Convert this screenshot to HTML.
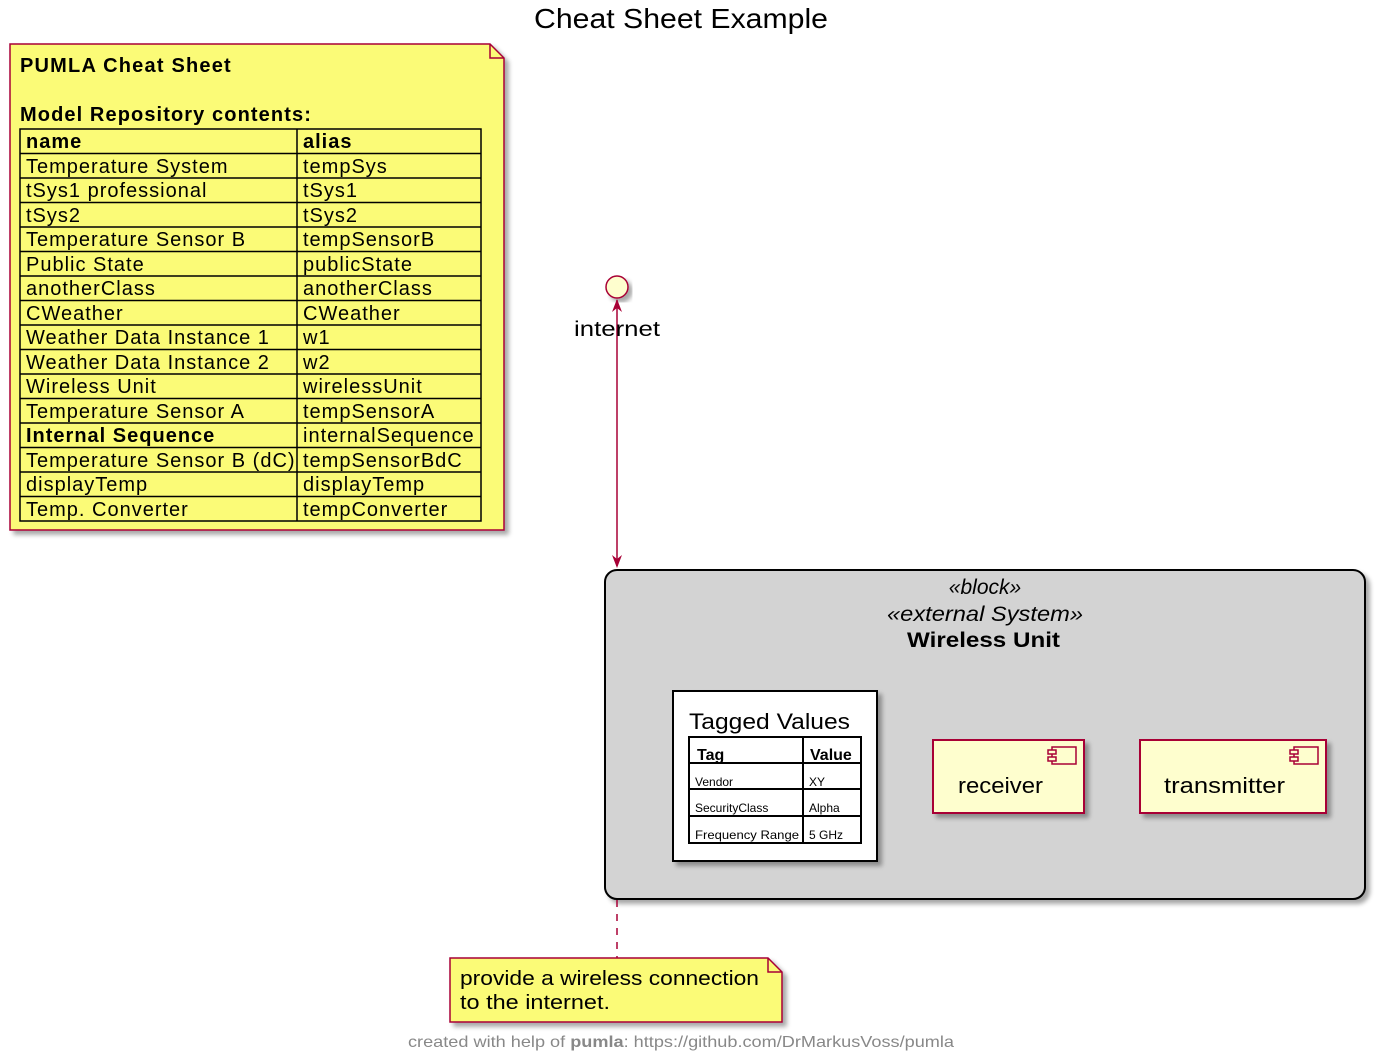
<!DOCTYPE html>
<html><head><meta charset="utf-8"><style>html,body{margin:0;padding:0;background:#fff}svg{display:block}text{font-family:"Liberation Sans",sans-serif}</style></head><body>
<svg width="1381" height="1059" viewBox="0 0 1381 1059" xmlns="http://www.w3.org/2000/svg">
<defs><filter id="sh" x="-10%" y="-10%" width="130%" height="130%"><feGaussianBlur in="SourceAlpha" stdDeviation="2.5"/><feOffset dx="4" dy="4"/><feComponentTransfer><feFuncA type="linear" slope="0.35"/></feComponentTransfer><feMerge><feMergeNode/><feMergeNode in="SourceGraphic"/></feMerge></filter></defs>
<text x="534" y="28" font-size="28" textLength="294" lengthAdjust="spacingAndGlyphs">Cheat Sheet Example</text>
<!-- Cheat sheet note -->
<path d="M10,44 H490 L504,58 V530 H10 Z" fill="#fbfb77" stroke="#a80036" stroke-width="1.5" filter="url(#sh)"/>
<path d="M490,44 V58 H504" fill="none" stroke="#a80036" stroke-width="1.5"/>
<text x="20" y="72" font-size="20" font-weight="bold" letter-spacing="1.2">PUMLA Cheat Sheet</text>
<text x="20" y="121" font-size="20" font-weight="bold" letter-spacing="1.1">Model Repository contents:</text>
<g stroke="#000" stroke-width="1.5" fill="none">
<rect x="20" y="129" width="461" height="392"/>
<line x1="297" y1="129" x2="297" y2="521"/>
<line x1="20" y1="153.5" x2="481" y2="153.5"/><line x1="20" y1="178" x2="481" y2="178"/><line x1="20" y1="202.5" x2="481" y2="202.5"/><line x1="20" y1="227" x2="481" y2="227"/><line x1="20" y1="251.5" x2="481" y2="251.5"/><line x1="20" y1="276" x2="481" y2="276"/><line x1="20" y1="300.5" x2="481" y2="300.5"/><line x1="20" y1="325" x2="481" y2="325"/><line x1="20" y1="349.5" x2="481" y2="349.5"/><line x1="20" y1="374" x2="481" y2="374"/><line x1="20" y1="398.5" x2="481" y2="398.5"/><line x1="20" y1="423" x2="481" y2="423"/><line x1="20" y1="447.5" x2="481" y2="447.5"/><line x1="20" y1="472" x2="481" y2="472"/><line x1="20" y1="496.5" x2="481" y2="496.5"/>
</g>
<g font-size="20" letter-spacing="1">
<text x="26" y="148" font-weight="bold">name</text><text x="303" y="148" font-weight="bold">alias</text>
<text x="26" y="173">Temperature System</text><text x="303" y="173">tempSys</text>
<text x="26" y="197">tSys1 professional</text><text x="303" y="197">tSys1</text>
<text x="26" y="222">tSys2</text><text x="303" y="222">tSys2</text>
<text x="26" y="246">Temperature Sensor B</text><text x="303" y="246">tempSensorB</text>
<text x="26" y="271">Public State</text><text x="303" y="271">publicState</text>
<text x="26" y="295">anotherClass</text><text x="303" y="295">anotherClass</text>
<text x="26" y="320">CWeather</text><text x="303" y="320">CWeather</text>
<text x="26" y="344">Weather Data Instance 1</text><text x="303" y="344">w1</text>
<text x="26" y="369">Weather Data Instance 2</text><text x="303" y="369">w2</text>
<text x="26" y="393">Wireless Unit</text><text x="303" y="393">wirelessUnit</text>
<text x="26" y="418">Temperature Sensor A</text><text x="303" y="418">tempSensorA</text>
<text x="26" y="442" font-weight="bold">Internal Sequence</text><text x="303" y="442">internalSequence</text>
<text x="26" y="467">Temperature Sensor B (dC)</text><text x="303" y="467">tempSensorBdC</text>
<text x="26" y="491">displayTemp</text><text x="303" y="491">displayTemp</text>
<text x="26" y="516">Temp. Converter</text><text x="303" y="516">tempConverter</text>
</g>
<!-- internet interface -->
<circle cx="617" cy="287" r="11" fill="#fefece" stroke="#a80036" stroke-width="1.5" filter="url(#sh)"/>
<line x1="617" y1="300" x2="617" y2="566" stroke="#a80036" stroke-width="1.5"/>
<path d="M617,299 L612,312 L617,308 L622,312 Z" fill="#a80036"/>
<path d="M617,568 L612,555 L617,559 L622,555 Z" fill="#a80036"/>
<text x="574" y="336" font-size="21" textLength="86" lengthAdjust="spacingAndGlyphs">internet</text>
<!-- wireless unit block -->
<rect x="605" y="570" width="760" height="329" rx="12" fill="#d3d3d3" stroke="#000" stroke-width="2" filter="url(#sh)"/>
<text x="985" y="594" font-size="21" font-style="italic" text-anchor="middle">«block»</text>
<text x="887" y="621" font-size="21" font-style="italic" textLength="196" lengthAdjust="spacingAndGlyphs">«external System»</text>
<text x="907" y="647" font-size="21" font-weight="bold" textLength="153" lengthAdjust="spacingAndGlyphs">Wireless Unit</text>
<!-- tagged values -->
<rect x="673" y="691" width="204" height="170" fill="#fff" stroke="#000" stroke-width="2" filter="url(#sh)"/>
<text x="689" y="729" font-size="22" textLength="161" lengthAdjust="spacingAndGlyphs">Tagged Values</text>
<g stroke="#000" stroke-width="2" fill="none"><rect x="689" y="737" width="172" height="106"/><line x1="803" y1="737" x2="803" y2="843"/><line x1="689" y1="763" x2="861" y2="763"/><line x1="689" y1="789" x2="861" y2="789"/><line x1="689" y1="816" x2="861" y2="816"/></g>
<text x="697" y="760" font-size="16" font-weight="bold">Tag</text><text x="810" y="760" font-size="16" font-weight="bold">Value</text>
<g font-size="12"><text x="695" y="786">Vendor</text><text x="809" y="786">XY</text><text x="695" y="812">SecurityClass</text><text x="809" y="812">Alpha</text><text x="695" y="839" textLength="104" lengthAdjust="spacingAndGlyphs">Frequency Range</text><text x="809" y="839">5 GHz</text></g>
<!-- receiver -->
<rect x="933" y="740" width="151" height="73" fill="#fefece" stroke="#a80036" stroke-width="2" filter="url(#sh)"/>
<rect x="1052" y="747" width="24" height="17" fill="#fefece" stroke="#a80036" stroke-width="1.5"/><rect x="1048" y="750" width="8" height="4" fill="#fefece" stroke="#a80036" stroke-width="1.5"/><rect x="1048" y="757" width="8" height="4" fill="#fefece" stroke="#a80036" stroke-width="1.5"/>
<text x="958" y="793" font-size="22" textLength="85" lengthAdjust="spacingAndGlyphs">receiver</text>
<!-- transmitter -->
<rect x="1140" y="740" width="186" height="73" fill="#fefece" stroke="#a80036" stroke-width="2" filter="url(#sh)"/>
<rect x="1294" y="747" width="24" height="17" fill="#fefece" stroke="#a80036" stroke-width="1.5"/><rect x="1290" y="750" width="8" height="4" fill="#fefece" stroke="#a80036" stroke-width="1.5"/><rect x="1290" y="757" width="8" height="4" fill="#fefece" stroke="#a80036" stroke-width="1.5"/>
<text x="1164" y="793" font-size="22" textLength="121" lengthAdjust="spacingAndGlyphs">transmitter</text>
<!-- note -->
<line x1="617" y1="900" x2="617" y2="958" stroke="#a80036" stroke-width="1.5" stroke-dasharray="7,7"/>
<path d="M450,958 H768 L782,972 V1022 H450 Z" fill="#fbfb77" stroke="#a80036" stroke-width="1.5" filter="url(#sh)"/>
<path d="M768,958 V972 H782" fill="none" stroke="#a80036" stroke-width="1.5"/>
<text x="460" y="985" font-size="20" textLength="299" lengthAdjust="spacingAndGlyphs">provide a wireless connection</text>
<text x="460" y="1009" font-size="20" textLength="150" lengthAdjust="spacingAndGlyphs">to the internet.</text>
<text x="408" y="1047" font-size="16" fill="#888" textLength="546" lengthAdjust="spacingAndGlyphs">created with help of <tspan font-weight="bold">pumla</tspan>: https://github.com/DrMarkusVoss/pumla</text>
</svg>
</body></html>
